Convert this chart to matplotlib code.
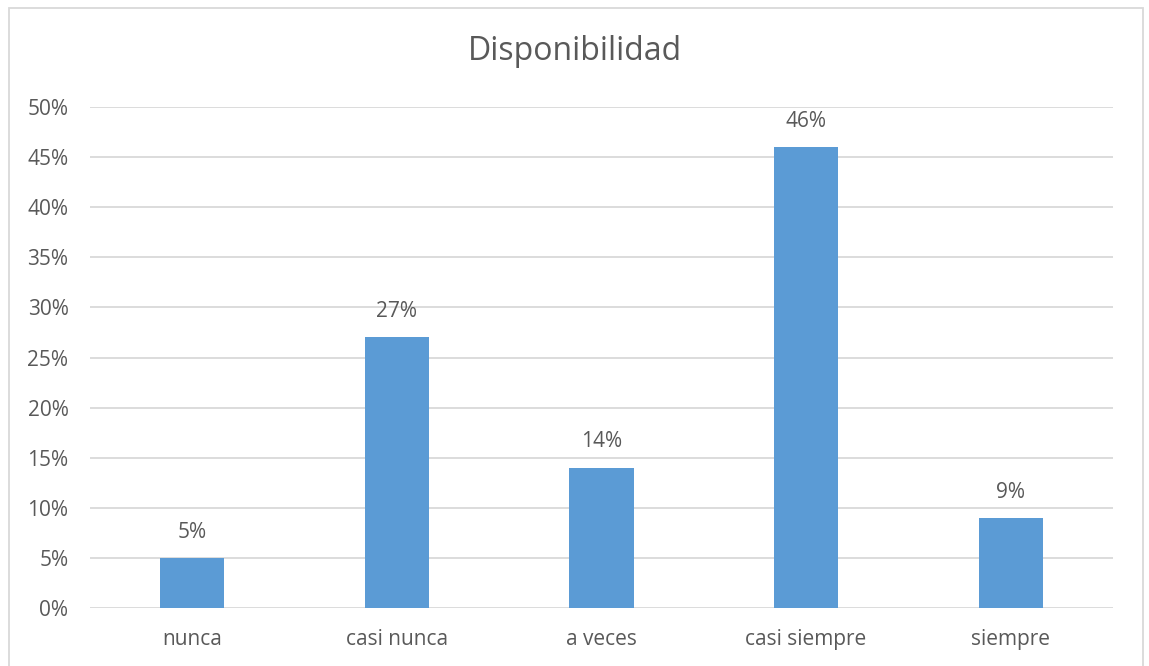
import numpy as np
import matplotlib.pyplot as plt
from matplotlib.patches import Rectangle
from matplotlib.ticker import PercentFormatter

# DATOS
categorias = ['nunca', 'casi nunca', 'a veces', 'casi siempre', 'siempre']
valores = [0.05, 0.27, 0.14, 0.46, 0.09]
etiquetas = ['5%', '27%', '14%', '46%', '9%']

plt.rcParams['font.family'] = ['Open Sans', 'DejaVu Sans']
gris = '#595959'

fig = plt.figure(figsize=(11.49, 6.66), dpi=100)
ax = fig.add_axes([0.0783, 0.0871, 0.8904, 0.7522])

x = np.arange(len(categorias))
barras = ax.bar(x, valores, width=0.313, color='#5b9bd5', zorder=3)
for b, t in zip(barras, etiquetas):
    ax.annotate(t, (b.get_x() + b.get_width()/2, b.get_height()),
                xytext=(0, 11), textcoords='offset points',
                ha='center', va='bottom', fontsize=15, color=gris)

ax.set_xlim(-0.5, len(categorias) - 0.5)
ax.set_ylim(0, 0.5)
ax.set_yticks(np.arange(0, 0.51, 0.05))
ax.yaxis.set_major_formatter(PercentFormatter(1.0, decimals=0))
ax.set_xticks(x)
ax.set_xticklabels(categorias)
ax.tick_params(axis='both', length=0, labelsize=15, colors=gris)
ax.tick_params(axis='y', pad=15.5)
ax.tick_params(axis='x', pad=15)
ax.grid(axis='y', color='#d9d9d9', linewidth=1.3, zorder=0)
for s in ax.spines.values():
    s.set_visible(False)

fig.text(0.5, 1 - 52/666, 'Disponibilidad', ha='center', va='center',
         fontsize=23, color=gris)

# borde del gráfico
fig.patches.append(Rectangle((9/1149, -0.01), (1143-9)/1149, 1 - 8/666 + 0.01,
                             transform=fig.transFigure, fill=False,
                             edgecolor='#d9d9d9', linewidth=1.3))

plt.savefig('out.png')
